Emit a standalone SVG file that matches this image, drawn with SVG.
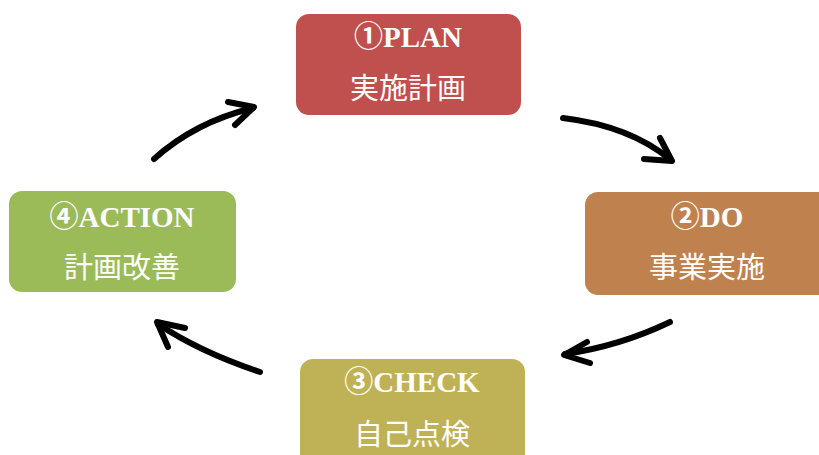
<svg xmlns="http://www.w3.org/2000/svg" width="819" height="455" viewBox="0 0 819 455">
<style>
.box{stroke:none}
.en{font-family:"Liberation Serif","DejaVu Serif",serif;font-weight:bold;font-size:29px;fill:#fff;text-anchor:middle}
.cd{font-family:"Noto Sans CJK JP","DejaVu Sans",sans-serif;font-weight:bold}
.ja{font-family:"Noto Sans CJK JP","Noto Sans",sans-serif;font-size:29px;fill:#fff;text-anchor:middle}
.arr{fill:none;stroke:#000;stroke-width:6;stroke-linecap:round;stroke-linejoin:round}
</style>
<rect width="819" height="455" fill="#fff"/>
<g id="plan">
<rect class="box" x="296" y="14" width="225" height="101" rx="13" fill="#C0504D"/>
<text class="en" x="408" y="47"><tspan class="cd">①</tspan>PLAN</text>
<text class="ja" x="408" y="99">実施計画</text>
</g>
<g id="do">
<rect class="box" x="585" y="192" width="250" height="103" rx="13" fill="#BF824F"/>
<text class="en" x="707" y="227"><tspan class="cd">②</tspan>DO</text>
<text class="ja" x="707" y="278">事業実施</text>
</g>
<g id="check">
<rect class="box" x="300" y="359" width="225" height="110" rx="13" fill="#BFB256"/>
<text class="en" x="412" y="392"><tspan class="cd">③</tspan>CHECK</text>
<text class="ja" x="412" y="445">自己点検</text>
</g>
<g id="action">
<rect class="box" x="9" y="191" width="227" height="101" rx="13" fill="#9BBB59"/>
<text class="en" x="122" y="227"><tspan class="cd">④</tspan>ACTION</text>
<text class="ja" x="122" y="278">計画改善</text>
</g>
<g id="connectors">
<path class="arr" d="M563,118 Q630,126 671,160"/>
<polyline class="arr" points="660,138 672,161 644,159"/>
<path class="arr" d="M670,322 Q620,346 565,354"/>
<polyline class="arr" points="587,342 564,355 590,363"/>
<path class="arr" d="M260,372 Q200,352 158,324"/>
<polyline class="arr" points="185,328 157,322 168,347"/>
<path class="arr" d="M154,159 Q195,122 253,108"/>
<polyline class="arr" points="228,102 254,107 235,125"/>
</g>
</svg>
